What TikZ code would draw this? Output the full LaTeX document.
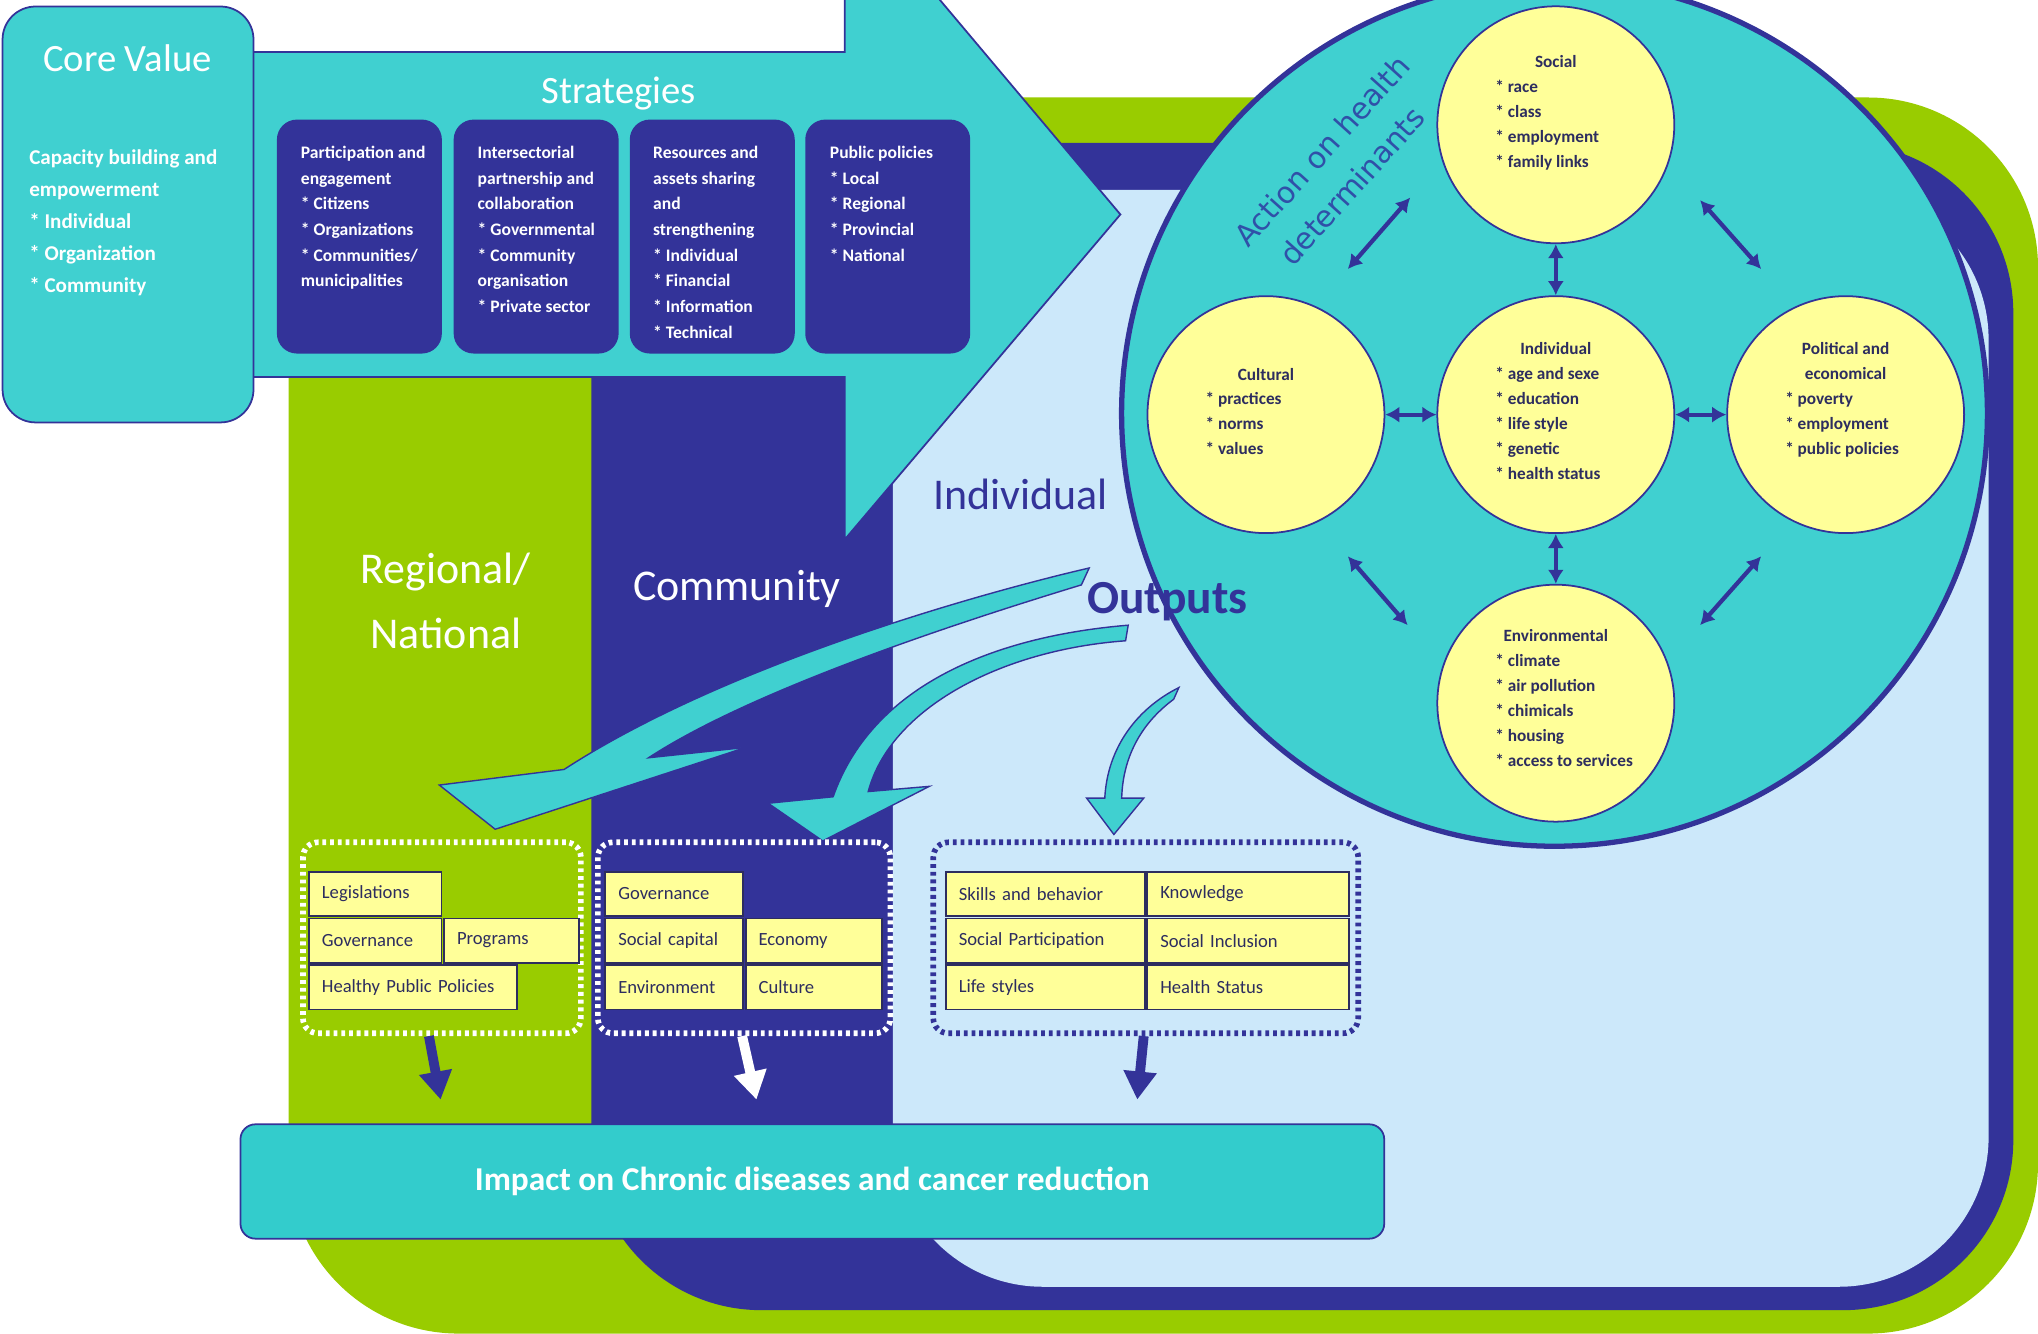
\documentclass[tikz,border=0pt]{standalone}
\usepackage{fontspec}
\setmainfont{Carlito}
\newfontfamily\actfont{DejaVu Sans}
\usetikzlibrary{arrows.meta}

\definecolor{tealc}{RGB}{64,208,208}
\definecolor{impc}{RGB}{51,204,204}
\definecolor{navy}{RGB}{51,51,153}
\definecolor{lime}{RGB}{153,204,0}
\definecolor{skyc}{RGB}{204,232,250}
\definecolor{pale}{RGB}{255,255,153}
\definecolor{inkc}{RGB}{45,45,95}
\definecolor{actc}{RGB}{48,80,168}

\begin{document}
\begin{tikzpicture}[x=0.013cm, y=-0.013cm,
	stratbox/.style={fill=navy, rounded corners=0.2cm, minimum width=1.65cm, minimum height=2.34cm, inner sep=0},
	strattext/.style={anchor=north west, inner sep=0, align=left, text=white, font=\bfseries\fontsize{5}{7.3}\selectfont},
	ycirc/.style={circle, fill=pale, draw=navy, line width=0.5pt, minimum size=2.37cm, inner sep=0},
	ctitle/.style={inner sep=0, align=center, text=inkc, font=\bfseries\fontsize{4.9}{7.1}\selectfont},
	clist/.style={anchor=north west, inner sep=0, align=left, text=inkc, font=\bfseries\fontsize{4.9}{7.1}\selectfont},
	dblarr/.style={navy, line width=1.2pt, {Latex[length=4pt,width=4.6pt]}-{Latex[length=4pt,width=4.6pt]}},
	region/.style={font=\fontsize{12.5}{18.5}\selectfont, align=center},
	bendarr/.style={fill=tealc, draw=navy, line width=0.4pt},
	grp/.style={rounded corners=0.15cm, line width=1.6pt, dash pattern=on 1.1pt off 1.1pt, minimum height=1.91cm, inner sep=0},
	ybox/.style={anchor=north west, fill=pale, draw=inkc, line width=0.5pt, minimum height=0.442cm, inner xsep=0.13cm, inner ysep=0, text width=#1, align=left, text=inkc, font=\fontsize{5.3}{6.3}\selectfont},
	downarr/.style={line width=2.8pt, -{Triangle[width=9pt,length=8pt]}}]

	\fill[white] (0,0) rectangle (1568,1026);
	\useasboundingbox (0,0) rectangle (1568,1026);

	% Levels
	\fill[lime, rounded corners=1.7cm] (222,75) rectangle (1568,1026);
	\fill[navy, rounded corners=1.7cm] (455,110) rectangle (1549,1008);
	\fill[skyc, rounded corners=1.5cm] (687,146) rectangle (1530,990);

	% Strategies arrow
	\draw[fill=tealc, draw=navy, line width=0.5pt] (190,40) -- (650,40) -- (650,-87) -- (862,165) -- (650,415) -- (650,290) -- (190,290) -- cycle;
	\node[text=white, font=\fontsize{11}{13}\selectfont] (strat) at (476,72) {Strategies};

	% Core value
	\node[fill=tealc, draw=navy, line width=0.5pt, rounded corners=0.33cm, minimum width=2.51cm, minimum height=4.16cm, inner sep=0] (core) at (98.5,165) {};
	\node[text=white, font=\fontsize{11}{13}\selectfont] (coretitle) at (98,45) {Core Value};
	\node[anchor=north west, inner sep=0, align=left, text=white, font=\bfseries\fontsize{6}{9.1}\selectfont] (coretext) at (22,115) {Capacity building and\\empowerment\\* Individual\\* Organization\\* Community};

	% Strategy boxes
	\node[stratbox] (partic) at (276.5,182) {};
	\node[stratbox] (intersec) at (412.5,182) {};
	\node[stratbox] (resour) at (548,182) {};
	\node[stratbox] (policy) at (683,182) {};
	\node[strattext] (partictext) at (231,112) {Participation and\\engagement\\* Citizens\\* Organizations\\* Communities/\\municipalities};
	\node[strattext] (intersectext) at (367,112) {Intersectorial\\partnership and\\collaboration\\* Governmental\\* Community\\organisation\\* Private sector};
	\node[strattext] (resourtext) at (502,112) {Resources and\\assets sharing\\and\\strengthening\\* Individual\\* Financial\\* Information\\* Technical};
	\node[strattext] (policytext) at (638,112) {Public policies\\* Local\\* Regional\\* Provincial\\* National};

	% Health determinants
	\node[circle, fill=tealc, draw=navy, line width=1.5pt, minimum size=8.66cm, inner sep=0] (determ) at (1196,318) {};
	\node[ycirc] (social) at (1197,96) {};
	\node[ycirc] (individ) at (1197,319) {};
	\node[ycirc] (cultural) at (974,319) {};
	\node[ycirc] (politic) at (1420,319) {};
	\node[ycirc] (environ) at (1197,541) {};

	\node[ctitle] (socialtitle) at (1197,47) {Social};
	\node[clist] (sociallist) at (1150,61) {* race\\* class\\* employment\\* family links};
	\node[ctitle] (individtitle) at (1197,268) {Individual};
	\node[clist] (individlist) at (1150,282) {* age and sexe\\* education\\* life style\\* genetic\\* health status};
	\node[ctitle] (culturaltitle) at (974,288) {Cultural};
	\node[clist] (culturallist) at (927,301) {* practices\\* norms\\* values};
	\node[ctitle] (politictitle) at (1420,278) {Political and\\economical};
	\node[clist] (politiclist) at (1373,301) {* poverty\\* employment\\* public policies};
	\node[ctitle] (environtitle) at (1197,489) {Environmental};
	\node[clist] (environlist) at (1150,503) {* climate\\* air pollution\\* chimicals\\* housing\\* access to services};

	\draw[dblarr] (social) -- (individ);
	\draw[dblarr] (individ) -- (environ);
	\draw[dblarr] (cultural) -- (individ);
	\draw[dblarr] (individ) -- (politic);
	\coordinate (nwa) at (1037,207); \coordinate (nwb) at (1085,152);
	\coordinate (nea) at (1308,154); \coordinate (neb) at (1355,207);
	\coordinate (swa) at (1037,428); \coordinate (swb) at (1083,481);
	\coordinate (sea) at (1308,481); \coordinate (seb) at (1355,428);
	\draw[dblarr] (nwa) -- (nwb);
	\draw[dblarr] (nea) -- (neb);
	\draw[dblarr] (swa) -- (swb);
	\draw[dblarr] (sea) -- (seb);

	\node[rotate=48, text=actc, inner sep=0, font=\actfont\fontsize{8.5}{10}\selectfont] (actionline) at (1017,116) {Action on health};
	\node[rotate=48, text=actc, inner sep=0, font=\actfont\fontsize{8.5}{10}\selectfont] (determline) at (1040,143) {determinants};

	% Level names
	\node[region, text=white] (regional) at (343,462) {Regional/\\National};
	\node[region, text=white] (community) at (567,453) {Community};
	\node[region, text=navy] (individual) at (785,380) {Individual};
	\node[text=navy, font=\bfseries\fontsize{13.5}{15}\selectfont] (outputs) at (898,463) {Outputs};

	% Output arrows
	\draw[bendarr] (838,437) .. controls (760,455) and (560,510) .. (434,592) -- (338,604) -- (381,638) -- (574,575) -- (499,583) .. controls (580,530) and (740,478) .. (832,450) -- cycle;
	\draw[bendarr] (868,481) .. controls (760,490) and (670,530) .. (641,613) -- (591,618) -- (633,647) -- (715,605) -- (668,609) .. controls (685,545) and (770,500) .. (866,493) -- cycle;
	\draw[bendarr] (907,529) .. controls (875,545) and (852,575) .. (850,614) -- (836,614) -- (857,642) -- (880,614) -- (863,614) .. controls (864,580) and (880,555) .. (903,538) -- cycle;

	% Outputs per level
	\node[grp, draw=white, minimum width=2.78cm] (grpreg) at (340,721.5) {};
	\node[grp, draw=white, minimum width=2.925cm] (grpcom) at (572.5,721.5) {};
	\node[grp, draw=navy, minimum width=4.25cm] (grpind) at (881.5,721.5) {};

	\node[ybox=1.066cm] (legis) at (237,670) {Legislations};
	\node[ybox=1.066cm] (govreg) at (237,706) {Governance};
	\node[ybox=1.092cm] (progr) at (341,706) {Programs};
	\node[ybox=1.82cm] (healthy) at (237,742) {Healthy Public Policies};

	\node[ybox=1.118cm] (govcom) at (465,670) {Governance};
	\node[ybox=1.118cm] (socap) at (465,706) {Social capital};
	\node[ybox=1.105cm] (econ) at (573,706) {Economy};
	\node[ybox=1.118cm] (envir) at (465,742) {Environment};
	\node[ybox=1.105cm] (cult) at (573,742) {Culture};

	\node[ybox=1.729cm] (skills) at (727,670) {Skills and behavior};
	\node[ybox=1.755cm] (knowl) at (882,670) {Knowledge};
	\node[ybox=1.729cm] (socpart) at (727,706) {Social Participation};
	\node[ybox=1.755cm] (socincl) at (882,706) {Social Inclusion};
	\node[ybox=1.729cm] (lifest) at (727,742) {Life styles};
	\node[ybox=1.755cm] (hstat) at (882,742) {Health Status};

	% Impact
	\node[fill=impc, draw=navy, line width=0.5pt, rounded corners=0.15cm, minimum width=11.44cm, minimum height=1.144cm, text=white, font=\bfseries\fontsize{9.5}{11}\selectfont] (impact) at (625,909) {Impact on Chronic diseases and cancer reduction\hspace{0.23cm}};

	\coordinate (regtip) at (339,846);
	\coordinate (comtip) at (582,846);
	\coordinate (indtip) at (875,846);
	\draw[downarr, navy] ([xshift=-0.13cm]grpreg.south) -- (regtip);
	\draw[downarr, white] ([xshift=-0.02cm]grpcom.south) -- (comtip);
	\draw[downarr, navy] ([xshift=-0.02cm]grpind.south) -- (indtip);

\end{tikzpicture}
\end{document}
